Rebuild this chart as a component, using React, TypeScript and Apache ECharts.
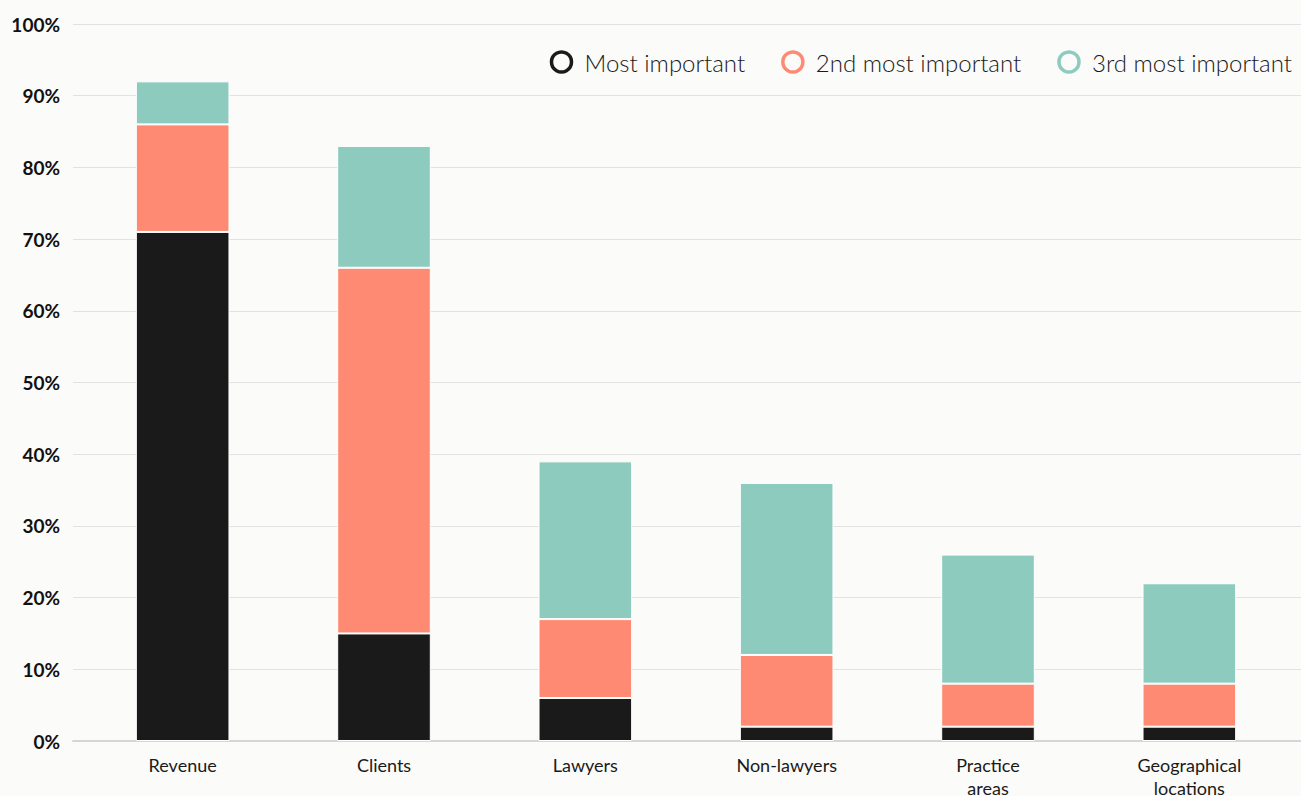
import React, { useEffect, useRef } from "react";
import * as echarts from "echarts";

const categories = ["Revenue", "Clients", "Lawyers", "Non-lawyers", "Practice\nareas", "Geographical\nlocations"];
const mostImportant = [71, 15, 6, 2, 2, 2];
const secondMost = [15, 51, 11, 10, 6, 6];
const thirdMost = [6, 17, 22, 24, 18, 14];
const yTicks = [0, 10, 20, 30, 40, 50, 60, 70, 80, 90, 100];

const seriesNames = ["Most important", "2nd most important", "3rd most important"];
const colors = ["#1a1a1a", "#ff8a73", "#8dcbbf"];

export default function App() {
  const ref = useRef<HTMLDivElement>(null);
  useEffect(() => {
    if (!ref.current) return;
    const chart = echarts.init(ref.current, undefined, { renderer: "svg", width: 1301, height: 796 });
    const data = [mostImportant, secondMost, thirdMost];
    const yMax = yTicks[yTicks.length - 1];
    chart.setOption({
      animation: false,
      backgroundColor: "#fbfbf9",
      textStyle: { fontFamily: "Lato" },
      grid: [
        { left: 73, right: 0, top: 24, height: 717, outerBoundsMode: "none", containLabel: false },
        { left: 82, right: 11, top: 24, height: 717, outerBoundsMode: "none", containLabel: false },
      ],
      legend: {
        right: 4,
        top: 45,
        itemWidth: 20,
        itemHeight: 20,
        itemGap: 36,
        icon: "circle",
        textStyle: {
          fontSize: 24,
          color: "#1a1a1a",
          fontFamily: "Lato",
          fontWeight: 300,
          padding: [0, 0, 0, 8],
        },
        data: seriesNames.map((n, i) => ({
          name: n,
          itemStyle: { color: "transparent", borderColor: colors[i], borderWidth: 3.5 },
        })),
      },
      xAxis: [
        {
          type: "category",
          gridIndex: 0,
          data: categories,
          axisLine: { lineStyle: { color: "#d6d6d6", width: 2 } },
          axisTick: { show: false },
          axisLabel: { show: false },
        },
        {
          type: "category",
          gridIndex: 1,
          data: categories,
          axisLine: { show: false },
          axisTick: { show: false },
          axisLabel: { fontSize: 18, color: "#1a1a1a", margin: 12, lineHeight: 23, interval: 0 },
        },
      ],
      yAxis: [
        {
          type: "value",
          gridIndex: 0,
          min: 0,
          max: yMax,
          interval: 10,
          axisLabel: {
            formatter: (v: number) => `${v}%`,
            fontSize: 19,
            fontWeight: "bold",
            color: "#111",
            margin: 13,
          },
          splitLine: { lineStyle: { color: "#e2e2e2", width: 1 } },
          axisLine: { show: false },
          axisTick: { show: false },
        },
        {
          type: "value",
          gridIndex: 1,
          min: 0,
          max: yMax,
          interval: 10,
          axisLabel: { show: false },
          splitLine: { show: false },
          axisLine: { show: false },
          axisTick: { show: false },
        },
      ],
      series: seriesNames.map((n, i) => ({
        name: n,
        type: "bar",
        xAxisIndex: 1,
        yAxisIndex: 1,
        stack: "total",
        barWidth: "46.5%",
        data: data[i],
        itemStyle: { color: colors[i], borderColor: "#ffffff", borderWidth: 1 },
      })),
    });
    return () => chart.dispose();
  }, []);
  return (
    <div
      ref={ref}
      style={{ position: "absolute", left: 0, top: 0, width: 1301, height: 796 }}
    />
  );
}
